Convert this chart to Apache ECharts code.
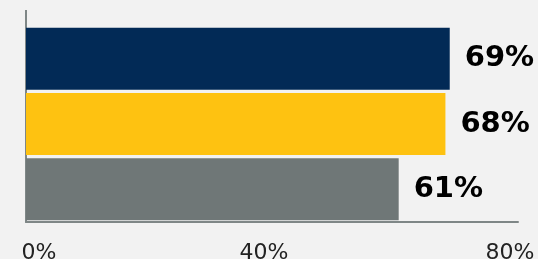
<!DOCTYPE html>
<html lang="en">
  <head>
    <meta charset="utf-8" />
    <script type="text/javascript" src="https://cdn.jsdelivr.net/npm/echarts@6/dist/echarts.min.js"></script>
    <title>Bar share</title>
    <style>
      html, body { margin: 0; padding: 0; background: #f2f2f2; }
      #chart { width: 538px; height: 259px; }
    </style>
  </head>
  <body>
    <div id="chart"></div>
    <script>
      // values (labels round them)
      var categories = ['A', 'B', 'C']
      var values = [68.9, 68.2, 60.6]
      var barColors = ['#022a56', '#fec211', '#6f7777']
      var xTicks = { min: 0, max: 80, interval: 40 }

      var axisGrey = '#7f8787'

      window.onload = function () {
        var chart = echarts.init(document.getElementById('chart'), null, { renderer: 'canvas' })
        chart.setOption({
          backgroundColor: '#f2f2f2',
          animation: false,
          grid: { left: 26, right: 20, top: 26, bottom: 37, containLabel: false, outerBoundsMode: 'none' },
          xAxis: {
            type: 'value',
            min: xTicks.min,
            max: xTicks.max,
            interval: xTicks.interval,
            splitLine: { show: false },
            axisTick: { show: false },
            axisLine: { show: true, lineStyle: { color: axisGrey, width: 2 } },
            axisLabel: {
              margin: 20,
              formatter: function (v) {
                return v === 0 ? '{l|' + v + '%}' : '{r|' + v + '%}'
              },
              rich: {
                l: { fontFamily: 'DejaVu Sans', fontSize: 22, color: '#222', padding: [0, 0, 0, 26] },
                r: { fontFamily: 'DejaVu Sans', fontSize: 22, color: '#222', padding: [0, 16, 0, 0] }
              }
            }
          },
          yAxis: {
            type: 'category',
            inverse: true,
            data: categories,
            axisTick: { show: false },
            axisLabel: { show: false },
            axisLine: { show: true, lineStyle: { color: axisGrey, width: 2 } }
          },
          // left axis runs a little above the bars
          graphic: [{
            type: 'line',
            shape: { x1: 26, y1: 10, x2: 26, y2: 27 },
            style: { stroke: axisGrey, lineWidth: 2 }
          }],
          series: [{
            type: 'bar',
            barCategoryGap: '5%',
            data: values.map(function (v, i) {
              return { value: v, itemStyle: { color: barColors[i] } }
            }),
            label: {
              show: true,
              position: 'right',
              distance: 15,
              fontFamily: 'DejaVu Sans',
              fontWeight: 'bold',
              fontSize: 29,
              color: '#000',
              formatter: function (p) { return Math.round(p.value) + '%' }
            }
          }]
        })
      }
    </script>
  </body>
</html>
